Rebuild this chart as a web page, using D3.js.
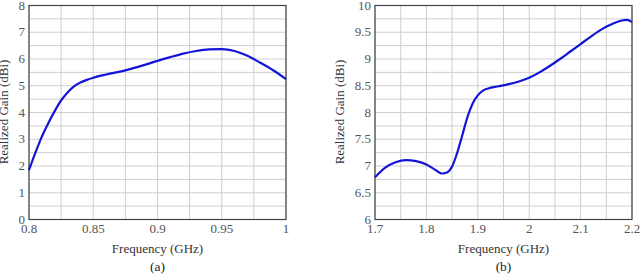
<!DOCTYPE html>
<html>
<head>
<meta charset="utf-8">
<script src="https://cdn.jsdelivr.net/npm/d3@7"></script>
<style>
  body { margin: 0; background: #fff; }
  svg text { font-family: "Liberation Serif", "DejaVu Serif", serif; }
</style>
</head>
<body>
<div id="chart"></div>
<script>
// panel (a) data
var freqA = [0.80, 0.805, 0.81, 0.815, 0.82, 0.825, 0.83, 0.835, 0.84, 0.845, 0.85, 0.86, 0.87, 0.88, 0.89, 0.90, 0.91, 0.92, 0.93, 0.94, 0.95, 0.96, 0.97, 0.98, 0.99, 1.00];
var gainA = [1.85, 2.5, 3.1, 3.6, 4.05, 4.45, 4.75, 4.98, 5.12, 5.22, 5.3, 5.42, 5.52, 5.64, 5.78, 5.93, 6.07, 6.2, 6.3, 6.36, 6.37, 6.3, 6.12, 5.86, 5.58, 5.25];
var xTicksA = [0.8, 0.85, 0.9, 0.95, 1];
var yTicksA = [0, 1, 2, 3, 4, 5, 6, 7, 8];

// panel (b) data
var freqB = [1.70, 1.72, 1.74, 1.76, 1.78, 1.80, 1.82, 1.83, 1.84, 1.85, 1.86, 1.87, 1.88, 1.89, 1.90, 1.91, 1.92, 1.94, 1.96, 1.98, 2.00, 2.02, 2.04, 2.06, 2.08, 2.10, 2.12, 2.14, 2.16, 2.18, 2.19, 2.20];
var gainB = [6.79, 6.97, 7.07, 7.11, 7.09, 7.03, 6.91, 6.86, 6.88, 6.99, 7.25, 7.58, 7.92, 8.17, 8.32, 8.41, 8.45, 8.49, 8.53, 8.58, 8.65, 8.75, 8.87, 9.0, 9.14, 9.28, 9.42, 9.55, 9.65, 9.72, 9.73, 9.69];
var xTicksB = [1.7, 1.8, 1.9, 2, 2.1, 2.2];
var yTicksB = [6, 6.5, 7, 7.5, 8, 8.5, 9, 9.5, 10];

var svg = d3.select("#chart").append("svg")
  .attr("width", 642)
  .attr("height", 274);

function drawPanel(opt) {
  var x = d3.scaleLinear().domain(opt.xDomain).range([opt.left, opt.right]);
  var y = d3.scaleLinear().domain(opt.yDomain).range([219.5, 5.5]);
  var g = svg.append("g");

  // grid
  g.selectAll(".gx").data(d3.range(opt.xDomain[0], opt.xDomain[1] + 1e-9, opt.xMinor))
    .enter().append("line")
    .attr("x1", d => x(d)).attr("x2", d => x(d))
    .attr("y1", y.range()[0]).attr("y2", y.range()[1])
    .attr("stroke", "#cfcfcf").attr("stroke-width", 1);
  g.selectAll(".gy").data(d3.range(opt.yDomain[0], opt.yDomain[1] + 1e-9, opt.yMinor))
    .enter().append("line")
    .attr("y1", d => y(d)).attr("y2", d => y(d))
    .attr("x1", opt.left).attr("x2", opt.right)
    .attr("stroke", "#cfcfcf").attr("stroke-width", 1);

  // frame
  g.append("rect")
    .attr("x", opt.left).attr("y", 5.5)
    .attr("width", opt.right - opt.left).attr("height", 214)
    .attr("fill", "none").attr("stroke", "#444").attr("stroke-width", 1.2);

  // tick labels
  g.selectAll(".xt").data(opt.xTicks).enter().append("text")
    .attr("x", d => x(d)).attr("y", 233)
    .attr("text-anchor", "middle")
    .attr("font-size", 13).attr("fill", "#555")
    .text(d => d);
  g.selectAll(".yt").data(opt.yTicks).enter().append("text")
    .attr("x", opt.left - 4).attr("y", d => y(d) + 4)
    .attr("text-anchor", "end")
    .attr("font-size", 13).attr("fill", "#555")
    .text(d => d);

  // line
  var pts = opt.xs.map((d, i) => [d, opt.ys[i]]);
  g.append("path")
    .datum(pts)
    .attr("fill", "none")
    .attr("stroke", "#1414d8")
    .attr("stroke-width", 2.2)
    .attr("d", d3.line().x(d => x(d[0])).y(d => y(d[1])).curve(d3.curveMonotoneX));

  // axis titles
  var cx = (opt.left + opt.right) / 2;
  g.append("text")
    .attr("x", cx).attr("y", 253)
    .attr("text-anchor", "middle").attr("font-size", 13).attr("fill", "#333")
    .text("Frequency (GHz)");
  g.append("text")
    .attr("x", cx).attr("y", 271)
    .attr("text-anchor", "middle").attr("font-size", 13.5).attr("fill", "#222")
    .text(opt.caption);
  g.append("text")
    .attr("transform", `translate(${opt.yLabelX}, 112) rotate(-90)`)
    .attr("text-anchor", "middle").attr("font-size", 13).attr("fill", "#333")
    .text("Realized Gain (dBi)");
}

drawPanel({
  left: 29, right: 286,
  xDomain: [0.8, 1], yDomain: [0, 8],
  xMinor: 0.025, yMinor: 0.5,
  xTicks: xTicksA, yTicks: yTicksA,
  xs: freqA, ys: gainA,
  yLabelX: 8, caption: "(a)"
});

drawPanel({
  left: 375, right: 632,
  xDomain: [1.7, 2.2], yDomain: [6, 10],
  xMinor: 0.05, yMinor: 0.25,
  xTicks: xTicksB, yTicks: yTicksB,
  xs: freqB, ys: gainB,
  yLabelX: 344, caption: "(b)"
});
</script>
</body>
</html>
